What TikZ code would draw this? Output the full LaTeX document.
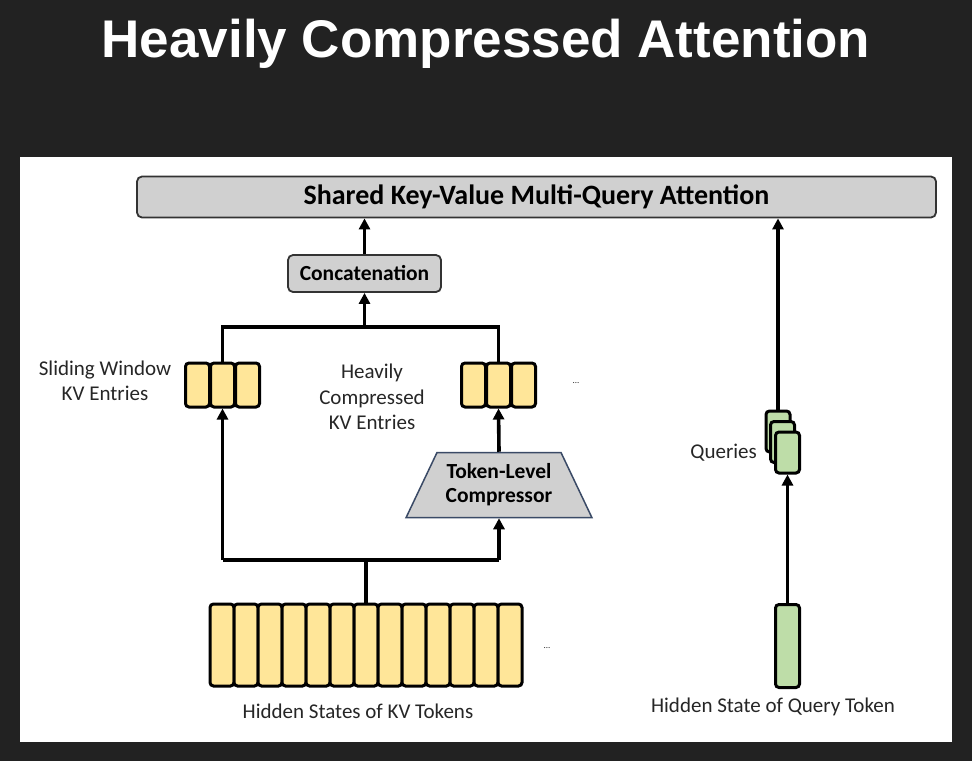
\documentclass[tikz,border=0pt]{standalone}
\usepackage{fontspec}
\setmainfont{Carlito}
\newfontfamily\titlefont{Liberation Sans}
\usetikzlibrary{shapes.geometric,arrows.meta}
\definecolor{bgdark}{HTML}{222222}
\definecolor{boxgray}{HTML}{D0D0D0}
\definecolor{kvyellow}{HTML}{FFE699}
\definecolor{qgreen}{HTML}{BEDDA8}
\definecolor{navy}{HTML}{3A4A66}
\definecolor{txt}{HTML}{262626}
\tikzset{
  graybox/.style={draw=black!80, fill=boxgray, rounded corners=5pt, line width=1.8pt, inner sep=0pt},
  kvcell/.style={draw=black, fill=kvyellow, rounded corners=3.5pt, line width=3pt, minimum width=24pt, inner sep=0pt},
  qcell/.style={draw=black, fill=qgreen, rounded corners=3.5pt, line width=3pt, minimum width=24pt, minimum height=41pt, inner sep=0pt},
  lbl/.style={text=txt, font=\fontsize{21}{25.5}\selectfont, align=center, inner sep=0pt},
  wire/.style={line width=3.6pt, draw=black},
  arr/.style={wire, -{Triangle[length=11pt,width=11pt]}},
}
\begin{document}
\begin{tikzpicture}[x=1pt,y=-1pt]
\fill[bgdark] (0,0) rectangle (972,761);
\fill[white] (20,157) rectangle (952,742);
\node[text=white, font=\titlefont\bfseries\fontsize{53}{60}\selectfont] (title) at (486,44) {Heavily Compressed Attention};

% shared attention box
\node[graybox, minimum width=799pt, minimum height=41pt, font=\bfseries\fontsize{28}{32}\selectfont] (shared) at (536.5,197) {Shared Key-Value Multi-Query Attention};
% concatenation
\node[graybox, minimum width=153pt, minimum height=37pt, font=\bfseries\fontsize{21.5}{24}\selectfont] (concat) at (364.5,273.5) {Concatenation};

% sliding window cells
\foreach \i in {1,2,3}{
  \node[kvcell, minimum height=44pt] (sw\i) at ({185+12.5+(\i-1)*25},385) {};
}
% compressed cells
\foreach \i in {1,2,3}{
  \node[kvcell, minimum height=44pt] (hc\i) at ({461+12.5+(\i-1)*25},385) {};
}
\node[lbl, font=\fontsize{9}{10}\selectfont] (dots1) at (576,383) {...};

\node[lbl] (swl) at (105,381) {Sliding Window\\KV Entries};
\node[lbl] (hcl) at (372,397) {Heavily\\Compressed\\KV Entries};

% compressor
\node[trapezium, trapezium stretches=true, trapezium left angle=58, trapezium right angle=58,
      draw=navy, fill=boxgray, line width=1.5pt, minimum width=186pt, minimum height=65pt,
      font=\bfseries\fontsize{21.5}{24}\selectfont, align=center, inner sep=0pt] (comp) at (499,485) {Token-Level\\Compressor};

% hidden states of KV tokens
\foreach \i in {1,...,13}{
  \node[kvcell, minimum height=82pt] (hs\i) at ({210+12+(\i-1)*24},645) {};
}
\node[lbl, font=\fontsize{9}{10}\selectfont] (dots2) at (547,648) {...};
\node[lbl] (hsl) at (358,711) {Hidden States of KV Tokens};

% queries
\node[qcell] (q3) at (778,431.5) {};
\node[qcell] (q2) at (782.5,442) {};
\node[qcell] (q1) at (787.5,452.5) {};
\node[lbl, anchor=east] (ql) at (757,453) {Queries};

% query token
\node[qcell, minimum height=83pt] (qt) at (787.5,646) {};
\node[lbl] (qtl) at (773,707) {Hidden State of Query Token};

% connectors
\coordinate (jt) at (364.5,327);
\coordinate (jb) at (366,560);
\draw[wire] (sw2.north) |- (jt) -| (hc2.north);
\draw[arr] (jt) -- (concat.south);
\draw[arr] (concat.north) -- (concat.north |- shared.south);
\draw[wire] (hs7.north) -- (jb);
\draw[wire] (sw2.south |- jb) -- (comp.south |- jb);
\draw[arr] (sw2.south |- jb) -- (sw2.south);
\draw[arr] (comp.south |- jb) -- (comp.south);
\draw[arr] (comp.north) -- (hc2.south);
\draw[arr] (qt.north) -- (q1.south);
\draw[arr] (q3.north) -- (q3.north |- shared.south);
\end{tikzpicture}
\end{document}
